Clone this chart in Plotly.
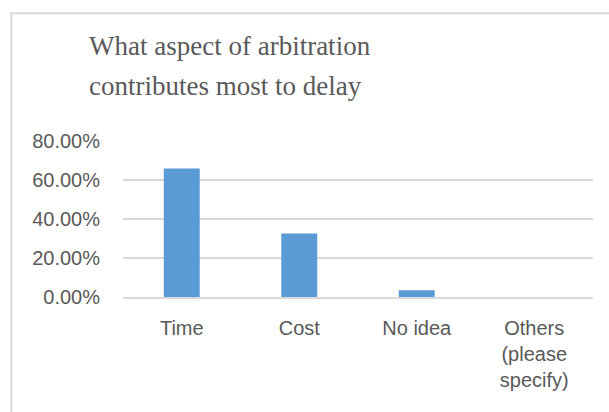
import plotly.graph_objects as go

# Survey responses: share of respondents per answer
categories = ["Time", "Cost", "No idea", "Others<br>(please<br>specify)"]
shares = [0.659, 0.326, 0.035, 0.0]
y_ticks = [0.0, 0.2, 0.4, 0.6, 0.8]
title_lines = ["What aspect of arbitration", "contributes most to delay"]

W, H = 609, 412
M_L, M_R, M_T, M_B = 123, 16, 141, 115
PW = W - M_L - M_R
PH = H - M_T - M_B


def px_x(px):
    """Pixel x -> paper x."""
    return (px - M_L) / PW


def px_y(py):
    """Pixel y (from top) -> paper y."""
    return (H - M_B - py) / PH


TEXT = "#595959"
GRID = "#D9D9D9"
BAR = "#5B9BD5"

fig = go.Figure(
    go.Bar(
        x=categories,
        y=shares,
        marker=dict(color=BAR, line=dict(width=0)),
        hoverinfo="x+y",
    )
)

fig.update_layout(
    width=W,
    height=H,
    margin=dict(l=M_L, r=M_R, t=M_T, b=M_B, pad=0),
    paper_bgcolor="white",
    plot_bgcolor="white",
    bargap=0.694,
    showlegend=False,
    font=dict(family="Liberation Sans, Arial, sans-serif", size=20, color=TEXT),
    xaxis=dict(
        type="category",
        showgrid=False,
        showline=True,
        linecolor=GRID,
        linewidth=1.5,
        ticks="",
        ticklabelstandoff=12,
        tickfont=dict(size=20, color=TEXT),
        fixedrange=True,
    ),
    yaxis=dict(
        range=[0, 0.8],
        tickvals=y_ticks,
        tickformat=".2%",
        showgrid=True,
        gridcolor=GRID,
        gridwidth=1.5,
        zeroline=False,
        showline=False,
        ticks="",
        ticklabelstandoff=22,
        tickfont=dict(size=20, color=TEXT),
        fixedrange=True,
    ),
)

# Chart frame (light grey border running off the right and bottom edges)
fig.add_shape(
    type="rect",
    xref="paper",
    yref="paper",
    x0=px_x(11.3),
    x1=px_x(W + 20),
    y0=px_y(H + 20),
    y1=px_y(13.3),
    line=dict(color=GRID, width=2),
    fillcolor="rgba(0,0,0,0)",
    layer="below",
)

# Two-line serif title
for line, py in zip(title_lines, [46, 86]):
    fig.add_annotation(
        text=line,
        xref="paper",
        yref="paper",
        x=px_x(87),
        y=px_y(py),
        xanchor="left",
        yanchor="middle",
        showarrow=False,
        font=dict(family="Liberation Serif, Times New Roman, serif", size=27, color=TEXT),
    )

fig.write_html("out.html")
